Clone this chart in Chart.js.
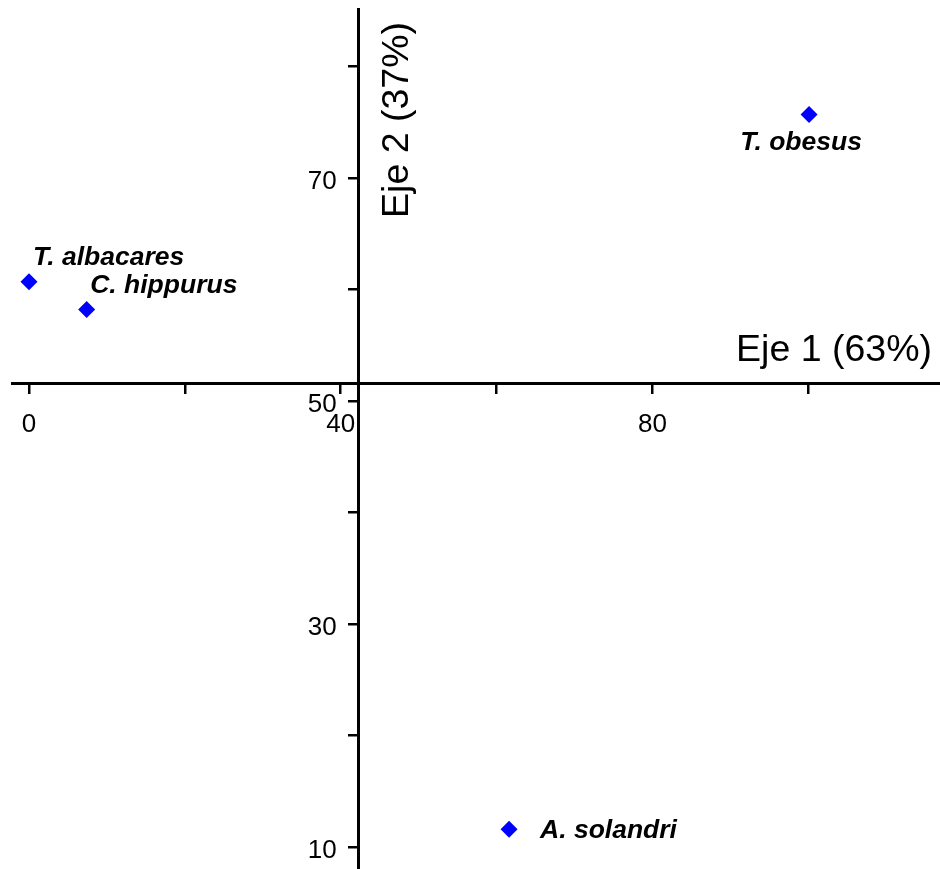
<!DOCTYPE html>
<html lang="es">
<head>
<meta charset="utf-8">
<title>Análisis de correspondencias</title>
<script src="https://cdn.jsdelivr.net/npm/chart.js@4/dist/chart.umd.min.js"></script>
<style>
  html, body { margin: 0; padding: 0; background: #ffffff; }
  #lienzo { display: block; }
</style>
</head>
<body>
<canvas id="lienzo" width="940" height="869"></canvas>
<script>
// Especies y sus coordenadas en los dos primeros ejes
const especies = ['T. albacares', 'C. hippurus', 'T. obesus', 'A. solandri'];
const eje1 = [0, 7.4, 100.1, 61.6];
const eje2 = [60.7, 58.2, 75.7, 11.6];

// Marcas de los ejes y las que llevan número
const marcasEje1 = [0, 20, 40, 60, 80, 100];
const etiquetasEje1 = [0, 40, 80];
const marcasEje2 = [10, 20, 30, 40, 50, 60, 70, 80];
const etiquetasEje2 = [10, 30, 50, 70];

// Títulos de los ejes
const tituloEje1 = 'Eje 1 (63%)';
const tituloEje2 = 'Eje 2 (37%)';

// Los ejes se cruzan en el centroide de las especies
const media = a => a.reduce((s, v) => s + v, 0) / a.length;
const cruce = { x: media(eje1), y: media(eje2) };

// Colocación de cada nombre respecto a su punto
const colocacion = [
  { dx: 4, dy: -17, align: 'left' },
  { dx: 3.5, dy: -17, align: 'left' },
  { dx: -8, dy: 36, align: 'center' },
  { dx: 31, dy: 9, align: 'left' }
];

const FUENTE = '"Liberation Sans", Arial, Helvetica, sans-serif';
Chart.defaults.font.family = FUENTE;
Chart.defaults.color = '#000000';

const puntos = eje1.map((x, i) => ({ x, y: eje2[i] }));

// Nombres de especie junto a cada punto
const nombresPlugin = {
  id: 'nombres',
  afterDatasetsDraw(chart) {
    const meta = chart.getDatasetMeta(0);
    const ctx = chart.ctx;
    ctx.save();
    ctx.fillStyle = '#000000';
    ctx.font = 'italic bold 26.5px ' + FUENTE;
    ctx.textBaseline = 'alphabetic';
    meta.data.forEach((p, i) => {
      const c = colocacion[i];
      ctx.textAlign = c.align;
      ctx.fillText(especies[i], p.x + c.dx, p.y + c.dy);
    });
    ctx.restore();
  }
};

// Títulos junto a los ejes cruzados
const titulosPlugin = {
  id: 'titulos',
  afterDraw(chart) {
    const { ctx, chartArea, scales } = chart;
    const ax = scales.x.getPixelForValue(cruce.x);
    const ay = scales.y.getPixelForValue(cruce.y);
    ctx.save();
    ctx.fillStyle = '#000000';
    ctx.font = '37.5px ' + FUENTE;
    ctx.textBaseline = 'alphabetic';
    ctx.textAlign = 'right';
    ctx.fillText(tituloEje1, chartArea.right - 8, ay - 23);
    ctx.translate(ax + 50, chartArea.top + 13);
    ctx.rotate(-Math.PI / 2);
    ctx.textAlign = 'right';
    ctx.fillText(tituloEje2, 0, 0);
    ctx.restore();
  }
};

const sinRelleno = s => { s.paddingTop = 0; s.paddingBottom = 0; s.paddingLeft = 0; s.paddingRight = 0; };

new Chart(document.getElementById('lienzo'), {
  type: 'scatter',
  data: {
    datasets: [{
      data: puntos,
      pointStyle: 'rectRot',
      pointRadius: 8.5,
      pointHoverRadius: 8.5,
      pointBackgroundColor: '#0000ff',
      pointBorderWidth: 0,
      borderWidth: 0
    }]
  },
  options: {
    responsive: false,
    animation: false,
    events: [],
    layout: { autoPadding: false, padding: { left: 12, top: 9, right: 0, bottom: 0 } },
    plugins: {
      legend: { display: false },
      tooltip: { enabled: false }
    },
    scales: {
      x: {
        type: 'linear',
        position: { y: cruce.y },
        min: -2.18,
        max: 116.9,
        afterFit: sinRelleno,
        afterBuildTicks: s => { s.ticks = marcasEje1.map(v => ({ value: v })); },
        border: { display: true, color: '#000000', width: 3 },
        grid: { display: true, drawOnChartArea: false, drawTicks: true, tickLength: 9, lineWidth: 2.5, color: '#000000' },
        ticks: {
          autoSkip: false,
          maxRotation: 0,
          padding: 16.5,
          color: '#000000',
          font: { size: 26 },
          callback: v => etiquetasEje1.includes(v) ? String(v) : ''
        }
      },
      y: {
        type: 'linear',
        position: { x: cruce.x },
        min: 8.04,
        max: 85.15,
        afterFit: sinRelleno,
        afterBuildTicks: s => { s.ticks = marcasEje2.map(v => ({ value: v })); },
        border: { display: true, color: '#000000', width: 3 },
        grid: { display: true, drawOnChartArea: false, drawTicks: true, tickLength: 9, lineWidth: 2.5, color: '#000000' },
        ticks: {
          autoSkip: false,
          padding: 0,
          labelOffset: 3.5,
          color: '#000000',
          font: { size: 26 },
          // espacios finales para separar el número del eje
          callback: v => etiquetasEje2.includes(v) ? String(v) + '   ' : ''
        }
      }
    }
  },
  plugins: [nombresPlugin, titulosPlugin]
});
</script>
</body>
</html>
